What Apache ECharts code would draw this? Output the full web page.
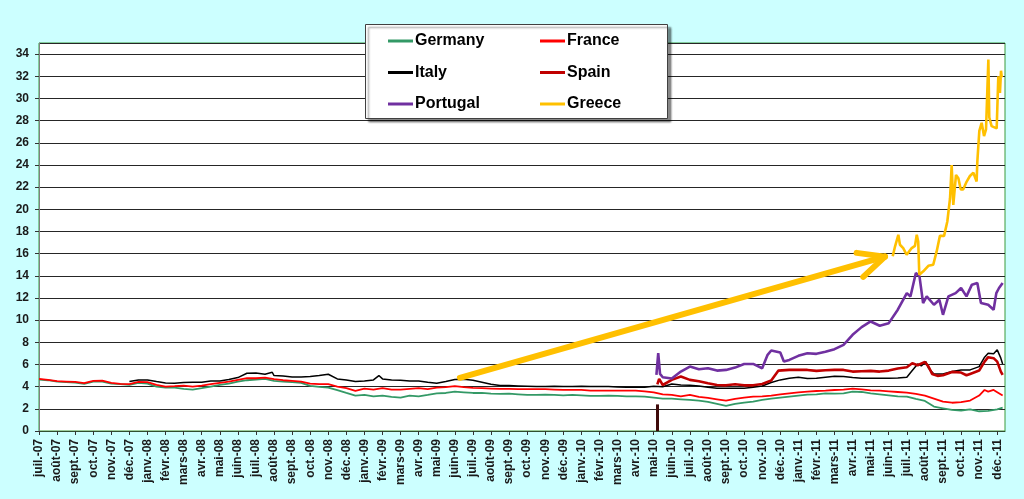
<!DOCTYPE html>
<html>
<head>
<meta charset="utf-8">
<script src="https://cdn.jsdelivr.net/npm/echarts@6/dist/echarts.min.js"></script>
<style>html,body{margin:0;padding:0;background:#CCFFFF;}#c{width:1024px;height:499px;}</style>
</head>
<body>
<div id="c"></div>
<script>
// Month tick labels (x = months since juil.-07)
const monthLabels = ['juil.-07','août-07','sept.-07','oct.-07','nov.-07','déc.-07',
'janv.-08','févr.-08','mars-08','avr.-08','mai-08','juin-08','juil.-08','août-08','sept.-08','oct.-08','nov.-08','déc.-08',
'janv.-09','févr.-09','mars-09','avr.-09','mai-09','juin-09','juil.-09','août-09','sept.-09','oct.-09','nov.-09','déc.-09',
'janv.-10','févr.-10','mars-10','avr.-10','mai-10','juin-10','juil.-10','août-10','sept.-10','oct.-10','nov.-10','déc.-10',
'janv.-11','févr.-11','mars-11','avr.-11','mai-11','juin-11','juil.-11','août-11','sept.-11','oct.-11','nov.-11','déc.-11'];

const seriesNames = ['Germany','France','Italy','Spain','Portugal','Greece'];

const germany = [[0,4.64],[0.5,4.58],[1,4.46],[1.5,4.40],[2,4.37],[2.5,4.25],[3,4.46],[3.5,4.46],[4,4.28],[4.5,4.22],[5,4.16],[5.5,4.34],[6,4.28],[6.5,4.01],[7,3.92],[7.5,3.92],[8,3.80],[8.5,3.74],[9,3.86],[9.5,4.01],[10,4.16],[10.5,4.28],[11,4.46],[11.5,4.58],[12,4.64],[12.5,4.70],[13,4.52],[13.5,4.46],[14,4.40],[14.5,4.34],[15,4.07],[15.5,3.98],[16,3.92],[16.5,3.68],[17,3.43],[17.5,3.19],[18,3.25],[18.5,3.13],[19,3.19],[19.5,3.07],[20,3.01],[20.5,3.19],[21,3.13],[21.5,3.25],[22,3.40],[22.5,3.43],[23,3.55],[23.5,3.49],[24,3.43],[24.5,3.43],[25,3.37],[25.5,3.34],[26,3.37],[26.5,3.31],[27,3.25],[27.5,3.25],[28,3.28],[28.5,3.25],[29,3.22],[29.5,3.25],[30,3.22],[30.5,3.16],[31,3.16],[31.5,3.19],[32,3.16],[32.5,3.13],[33,3.13],[33.5,3.10],[34,3.01],[34.5,2.92],[35,2.92],[35.5,2.86],[36,2.80],[36.5,2.74],[37,2.62],[37.5,2.44],[38,2.26],[38.5,2.44],[39,2.56],[39.5,2.65],[40,2.80],[40.5,2.92],[41,3.01],[41.5,3.10],[42,3.19],[42.5,3.28],[43,3.31],[43.5,3.40],[44,3.37],[44.5,3.40],[45,3.55],[45.5,3.52],[46,3.40],[46.5,3.31],[47,3.22],[47.5,3.13],[48,3.10],[48.5,2.89],[49,2.71],[49.5,2.20],[50,2.05],[50.5,1.90],[51,1.85],[51.5,1.95],[52,1.78],[52.5,1.82],[53,1.95],[53.3,2.10]];

const france = [[0,4.70],[0.5,4.61],[1,4.49],[1.5,4.46],[2,4.43],[2.5,4.31],[3,4.52],[3.5,4.55],[4,4.34],[4.5,4.25],[5,4.22],[5.5,4.43],[6,4.40],[6.5,4.16],[7,4.01],[7.5,4.04],[8,4.10],[8.5,4.01],[9,4.10],[9.5,4.22],[10,4.34],[10.5,4.46],[11,4.61],[11.5,4.76],[12,4.76],[12.5,4.82],[13,4.67],[13.5,4.58],[14,4.52],[14.5,4.46],[15,4.28],[15.5,4.22],[16,4.22],[16.5,4.01],[17,3.86],[17.5,3.62],[18,3.83],[18.5,3.74],[19,3.86],[19.5,3.74],[20,3.74],[20.5,3.80],[21,3.86],[21.5,3.77],[22,3.92],[22.5,3.95],[23,4.04],[23.5,3.95],[24,3.89],[24.5,3.86],[25,3.83],[25.5,3.80],[26,3.80],[26.5,3.77],[27,3.77],[27.5,3.77],[28,3.77],[28.5,3.74],[29,3.71],[29.5,3.71],[30,3.71],[30.5,3.65],[31,3.65],[31.5,3.65],[32,3.65],[32.5,3.65],[33,3.65],[33.5,3.58],[34,3.49],[34.5,3.31],[35,3.25],[35.5,3.13],[36,3.25],[36.5,3.07],[37,2.98],[37.5,2.86],[38,2.74],[38.5,2.89],[39,3.01],[39.5,3.10],[40,3.13],[40.5,3.19],[41,3.31],[41.5,3.40],[42,3.49],[42.5,3.55],[43,3.61],[43.5,3.64],[44,3.70],[44.5,3.73],[45,3.82],[45.5,3.76],[46,3.67],[46.5,3.64],[47,3.58],[47.5,3.52],[48,3.46],[48.5,3.34],[49,3.19],[49.5,2.92],[50,2.65],[50.5,2.55],[51,2.60],[51.5,2.75],[52,3.20],[52.3,3.70],[52.5,3.55],[52.8,3.70],[53,3.50],[53.3,3.20]];

const italy = [[5,4.46],[5.5,4.61],[6,4.61],[6.5,4.46],[7,4.34],[7.5,4.31],[8,4.37],[8.5,4.40],[9,4.40],[9.5,4.52],[10,4.52],[10.5,4.64],[11,4.82],[11.5,5.21],[12,5.24],[12.5,5.12],[12.9,5.30],[13,5.00],[13.5,4.97],[14,4.88],[14.5,4.88],[15,4.91],[15.5,5.00],[16,5.12],[16.5,4.70],[17,4.61],[17.5,4.46],[18,4.52],[18.5,4.61],[18.8,5.00],[19,4.70],[19.5,4.61],[20,4.58],[20.5,4.52],[21,4.52],[21.5,4.40],[22,4.31],[22.5,4.46],[23,4.64],[23.5,4.67],[24,4.58],[24.5,4.40],[25,4.22],[25.5,4.10],[26,4.10],[26.5,4.07],[27,4.04],[27.5,4.01],[28,4.01],[28.5,4.04],[29,4.01],[29.5,4.01],[30,4.04],[30.5,4.01],[31,4.01],[31.5,4.01],[32,3.98],[32.5,3.95],[33,3.95],[33.5,3.95],[34,4.04],[34.5,4.00],[35,4.24],[35.5,4.15],[36,4.12],[36.5,4.06],[37,3.94],[37.5,3.85],[38,3.85],[38.5,3.85],[39,3.85],[39.5,3.94],[40,4.06],[40.5,4.37],[41,4.61],[41.5,4.76],[42,4.85],[42.5,4.73],[43,4.76],[43.5,4.85],[44,4.94],[44.5,4.91],[45,4.82],[45.5,4.76],[46,4.76],[46.5,4.76],[47,4.76],[47.5,4.79],[48,4.85],[48.3,5.45],[48.6,6.05],[48.8,5.87],[49.05,6.26],[49.2,5.66],[49.5,5.15],[50,5.15],[50.5,5.36],[51,5.51],[51.5,5.51],[52,5.81],[52.3,6.66],[52.5,7.02],[52.8,6.96],[53,7.32],[53.2,6.57],[53.3,6.05]];

const spain = [[34.2,4.2],[34.3,4.7],[34.5,4.15],[35,4.61],[35.5,4.91],[36,4.61],[36.5,4.49],[37,4.30],[37.5,4.15],[38,4.12],[38.5,4.21],[39,4.12],[39.5,4.12],[40,4.24],[40.5,4.55],[40.9,5.45],[41,5.57],[41.5,5.51],[42,5.51],[42.5,5.51],[43,5.42],[43.5,5.48],[44,5.51],[44.5,5.51],[45,5.36],[45.5,5.39],[46,5.42],[46.5,5.36],[47,5.45],[47.5,5.63],[48,5.75],[48.3,6.11],[48.6,5.93],[49,6.23],[49.2,5.81],[49.4,5.15],[49.7,4.97],[50,5.03],[50.5,5.33],[51,5.27],[51.3,5.03],[51.5,5.15],[52,5.45],[52.3,6.26],[52.5,6.66],[52.8,6.57],[53,6.26],[53.2,5.36],[53.3,5.06]];

const portugal = [[34.15,5.06],[34.25,7.02],[34.35,5.15],[34.5,4.85],[35,4.73],[35.5,5.36],[36,5.81],[36.5,5.57],[37,5.66],[37.5,5.45],[38,5.51],[38.5,5.72],[39,6.05],[39.5,6.05],[40,5.66],[40.3,6.87],[40.5,7.26],[41,7.08],[41.2,6.26],[41.5,6.41],[42,6.78],[42.5,7.02],[43,6.96],[43.5,7.14],[44,7.38],[44.5,7.77],[45,8.68],[45.5,9.37],[46,9.88],[46.5,9.49],[47,9.73],[47.5,10.94],[48,12.44],[48.2,12.14],[48.5,14.25],[48.7,13.95],[48.9,11.54],[49.1,12.14],[49.5,11.39],[49.8,11.84],[50,10.48],[50.3,12.14],[50.7,12.44],[51,12.9],[51.3,12.14],[51.6,13.2],[51.9,13.35],[52.1,11.54],[52.5,11.39],[52.8,10.94],[52.95,12.44],[53.1,12.9],[53.3,13.35]];

const greece = [[47.22,15.76],[47.35,16.66],[47.53,17.7],[47.62,16.8],[47.8,16.5],[47.99,15.9],[48.27,16.5],[48.45,16.7],[48.55,17.7],[48.63,17.1],[48.69,14.1],[48.91,14.4],[49.19,14.9],[49.46,15.0],[49.65,16.2],[49.83,17.6],[50.06,17.6],[50.24,18.9],[50.39,21.0],[50.48,24.0],[50.57,20.4],[50.72,23.1],[50.85,22.8],[50.98,21.8],[51.12,21.8],[51.31,22.5],[51.49,23.0],[51.68,23.3],[51.86,22.5],[51.9,24.3],[52.01,27.07],[52.14,27.8],[52.27,26.6],[52.38,27.2],[52.51,33.5],[52.56,28.3],[52.69,27.5],[52.97,27.3],[53.06,32.0],[53.15,30.5],[53.21,32.5],[53.25,31.9]];

// Annotations in data coordinates (month index, %)
const arrowShaft = [[23.28,4.80],[46.79,15.73]];
const arrowArmUp = [[46.79,15.73],[45.22,16.07]];
const arrowArmDown = [[46.79,15.73],[45.59,13.90]];
const mayMarker = [[34.18,0],[34.18,2.4]];

const colors = {Germany:'#339966',France:'#FF0000',Italy:'#000000',Spain:'#C00000',Portugal:'#7030A0',Greece:'#FFC000'};
const widths = {Germany:1.8,France:1.8,Italy:1.5,Spain:2.6,Portugal:2.6,Greece:2.6};
const dataMap = {Germany:germany,France:france,Italy:italy,Spain:spain,Portugal:portugal,Greece:greece};

const FONT = '"Liberation Sans", Arial, sans-serif';

function seg(p){ return [{coord:p[0]},{coord:p[1]}]; }

const series = seriesNames.map(function(n){
  return {
    name:n, type:'line', data:dataMap[n], showSymbol:false, symbol:'none',
    lineStyle:{color:colors[n], width:widths[n]}, itemStyle:{color:colors[n]},
    animation:false, z:2
  };
});
// Annotation arrow (yellow) and May-2010 marker
series[5].markLine = {
  silent:true, symbol:['none','none'], animation:false, label:{show:false},
  lineStyle:{color:'#FFC000', width:6, type:'solid', cap:'round'},
  data:[seg(arrowShaft), seg(arrowArmUp), seg(arrowArmDown)]
};
series[3].markLine = {
  silent:true, symbol:['none','none'], animation:false, label:{show:false},
  lineStyle:{color:'#3f0a0a', width:3, type:'solid'},
  data:[seg(mayMarker)]
};

const legendCommon = {
  orient:'vertical', top:33, padding:0, itemGap:15.5, itemWidth:25, itemHeight:3, icon:'rect',
  textStyle:{fontSize:16, fontWeight:'bold', color:'#000', fontFamily:FONT, padding:[0,0,0,-3]},
  z:10, selectedMode:false
};

const chart = echarts.init(document.getElementById('c'));
chart.setOption({
  backgroundColor:'#CCFFFF',
  animation:false,
  grid:{left:39, right:19, top:43, bottom:68, show:true, backgroundColor:'#FFFFFF', borderColor:'#3a9a3a', borderWidth:1},
  xAxis:{
    type:'value', min:0, max:53.43, interval:1,
    axisLine:{show:true, lineStyle:{color:'#2f4f2f', width:1}},
    axisTick:{show:true, length:4, inside:false, lineStyle:{color:'#333'}},
    splitLine:{show:false},
    axisLabel:{rotate:90, margin:8, fontSize:12, fontWeight:'bold', color:'#1a1a1a', fontFamily:FONT,
      showMaxLabel:false,
      formatter:function(v){ return (Math.abs(v-Math.round(v))<1e-6 && monthLabels[Math.round(v)]) ? monthLabels[Math.round(v)] : ''; }}
  },
  yAxis:{
    type:'value', min:0, max:35, interval:2,
    axisLine:{show:true, lineStyle:{color:'#808080', width:1}},
    axisTick:{show:true, length:4, lineStyle:{color:'#333'}},
    splitLine:{show:true, lineStyle:{color:'#262626', width:1}},
    axisLabel:{margin:10, fontSize:12, fontWeight:'bold', color:'#1a1a1a', fontFamily:FONT,
      showMaxLabel:false,
      formatter:function(v){ return v <= 34 ? String(v) : ''; }}
  },
  legend:[
    Object.assign({}, legendCommon, {left:388, data:['Germany','Italy','Portugal']}),
    Object.assign({}, legendCommon, {left:540, data:['France','Spain','Greece']})
  ],
  graphic:[{
    type:'rect', left:365, top:24, z:9, silent:true,
    shape:{width:302, height:94},
    style:{fill:'#FFFFFF', stroke:'#404040', lineWidth:1, shadowBlur:2, shadowOffsetX:3, shadowOffsetY:3, shadowColor:'rgba(0,0,0,0.45)'}
  }],
  series:series
});
</script>
</body>
</html>
